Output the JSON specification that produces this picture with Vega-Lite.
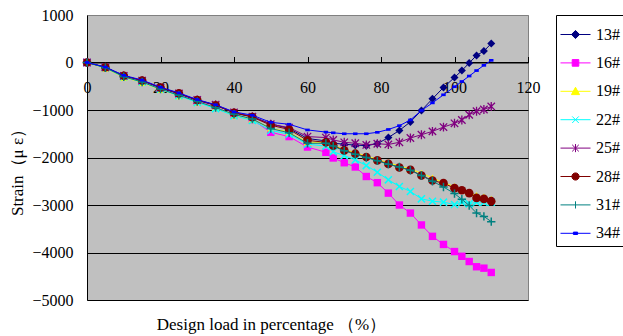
{
  "$schema": "https://vega.github.io/schema/vega-lite/v6.json",
  "autosize": "none",
  "width": 441,
  "height": 285,
  "padding": {"left": 87, "top": 15, "right": 95, "bottom": 36},
  "background": "white",
  "data": {"values": [
    {"x": 0, "13#": 0, "16#": 0, "19#": 0, "22#": 0, "25#": 0, "28#": 0, "31#": 0, "34#": 0},
    {"x": 5, "13#": -100, "16#": -110, "19#": -120, "22#": -110, "25#": -100, "28#": -100, "31#": -110, "34#": -95},
    {"x": 10, "13#": -280, "16#": -290, "19#": -310, "22#": -300, "25#": -280, "28#": -280, "31#": -300, "34#": -270},
    {"x": 15, "13#": -390, "16#": -400, "19#": -420, "22#": -410, "25#": -380, "28#": -380, "31#": -410, "34#": -370},
    {"x": 20, "13#": -540, "16#": -560, "19#": -570, "22#": -560, "25#": -530, "28#": -530, "31#": -560, "34#": -520},
    {"x": 25, "13#": -660, "16#": -690, "19#": -700, "22#": -700, "25#": -650, "28#": -650, "31#": -690, "34#": -640},
    {"x": 30, "13#": -800, "16#": -820, "19#": -830, "22#": -840, "25#": -790, "28#": -790, "31#": -820, "34#": -780},
    {"x": 35, "13#": -900, "16#": -940, "19#": -950, "22#": -970, "25#": -890, "28#": -900, "31#": -950, "34#": -890},
    {"x": 40, "13#": -1060, "16#": -1110, "19#": -1110, "22#": -1120, "25#": -1050, "28#": -1060, "31#": -1090, "34#": -1040},
    {"x": 45, "13#": -1140, "16#": -1200, "19#": -1200, "22#": -1220, "25#": -1140, "28#": -1150, "31#": -1190, "34#": -1110},
    {"x": 50, "13#": -1290, "16#": -1470, "19#": -1380, "22#": -1430, "25#": -1300, "28#": -1320, "31#": -1390, "34#": -1260},
    {"x": 55, "13#": -1390, "16#": -1560, "19#": -1470, "22#": -1510, "25#": -1370, "28#": -1410, "31#": -1480, "34#": -1300},
    {"x": 60, "13#": -1600, "16#": -1780, "19#": -1680, "22#": -1720, "25#": -1560, "28#": -1640, "31#": -1700, "34#": -1420},
    {"x": 65, "13#": -1650, "16#": -1890, "19#": -1680, "22#": -1760, "25#": -1580, "28#": -1680, "31#": -1700, "34#": -1465},
    {"x": 67, "13#": -1700, "16#": -2010, "19#": -1740, "22#": -1880, "25#": -1630, "28#": -1750, "31#": -1760, "34#": -1480},
    {"x": 70, "13#": -1720, "16#": -2110, "19#": -1830, "22#": -1960, "25#": -1680, "28#": -1850, "31#": -1860, "34#": -1500},
    {"x": 73, "13#": -1740, "16#": -2200, "19#": -1900, "22#": -2050, "25#": -1700, "28#": -1920, "31#": -1930, "34#": -1500},
    {"x": 76, "13#": -1750, "16#": -2400, "19#": -1970, "22#": -2170, "25#": -1735, "28#": -1990, "31#": -2000, "34#": -1500},
    {"x": 79, "13#": -1710, "16#": -2530, "19#": -2040, "22#": -2310, "25#": -1710, "28#": -2060, "31#": -2070, "34#": -1470},
    {"x": 82, "13#": -1580, "16#": -2750, "19#": -2110, "22#": -2470, "25#": -1725, "28#": -2135, "31#": -2140, "34#": -1410},
    {"x": 85, "13#": -1430, "16#": -3000, "19#": -2180, "22#": -2610, "25#": -1680, "28#": -2210, "31#": -2200, "34#": -1330},
    {"x": 88, "13#": -1250, "16#": -3170, "19#": -2240, "22#": -2715, "25#": -1590, "28#": -2260, "31#": -2270, "34#": -1210},
    {"x": 91, "13#": -1010, "16#": -3420, "19#": -2330, "22#": -2870, "25#": -1520, "28#": -2380, "31#": -2380, "34#": -1010},
    {"x": 94, "13#": -765, "16#": -3660, "19#": -2430, "22#": -2920, "25#": -1450, "28#": -2485, "31#": -2500, "34#": -850},
    {"x": 97, "13#": -525, "16#": -3830, "19#": -2530, "22#": -2940, "25#": -1360, "28#": -2540, "31#": -2620, "34#": -680},
    {"x": 100, "13#": -315, "16#": -3980, "19#": -2610, "22#": -2990, "25#": -1280, "28#": -2645, "31#": -2760, "34#": -510},
    {"x": 102, "13#": -170, "16#": -4080, "19#": -2680, "22#": -2940, "25#": -1210, "28#": -2690, "31#": -2880, "34#": -400},
    {"x": 104, "13#": -10, "16#": -4190, "19#": -2740, "22#": -2975, "25#": -1100, "28#": -2750, "31#": -3010, "34#": -285},
    {"x": 106, "13#": 150, "16#": -4300, "19#": -2800, "22#": -2940, "25#": -1025, "28#": -2850, "31#": -3170, "34#": -170},
    {"x": 108, "13#": 240, "16#": -4330, "19#": -2830, "22#": -2940, "25#": -990, "28#": -2870, "31#": -3240, "34#": -60},
    {"x": 110, "13#": 400, "16#": -4420, "19#": -2880, "22#": -2940, "25#": -925, "28#": -2920, "31#": -3350, "34#": 45}
  ]},
  "transform": [{"fold": ["13#", "16#", "19#", "22#", "25#", "28#", "31#", "34#"], "as": ["series", "strain"]}],
  "encoding": {
    "x": {
      "field": "x", "type": "quantitative",
      "scale": {"domain": [0, 120], "nice": false, "zero": false},
      "axis": {
        "values": [0, 20, 40, 60, 80, 100, 120], "format": "d", "grid": false,
        "offset": -237.5, "tickSize": -6, "labelPadding": 23, "labelFlush": false, "labelOverlap": false,
        "title": "Design load in percentage （%）", "titleX": 184, "titleY": 262, "titleBaseline": "middle", "titleFontSize": 17
      }
    },
    "y": {
      "field": "strain", "type": "quantitative",
      "scale": {"domain": [-5000, 1000], "nice": false, "zero": false},
      "axis": {
        "values": [-5000, -4000, -3000, -2000, -1000, 0, 1000], "format": "d", "grid": true,
        "ticks": false, "tickSize": 0, "labelPadding": 14, "labelFlush": false, "labelOverlap": false,
        "gridColor": {"condition": {"test": "datum.value == 1000", "value": "#808080"}, "value": "#000000"},
        "title": "Strain（μ ε）", "titleX": -70, "titleY": 153, "titleAngle": -90, "titleBaseline": "middle", "titleAlign": "center", "titleFontSize": 17
      }
    }
  },
  "layer": [
    {"transform": [{"filter": "datum.series === '13#'"}],
     "mark": {"type": "line", "color": "#000080", "strokeWidth": 1, "point": {"shape": "diamond", "filled": true, "size": 64, "opacity": 1, "color": "#000080"}}},
    {"transform": [{"filter": "datum.series === '16#'"}],
     "mark": {"type": "line", "color": "#FF00FF", "strokeWidth": 1, "point": {"shape": "square", "filled": true, "size": 55, "opacity": 1, "color": "#FF00FF"}}},
    {"transform": [{"filter": "datum.series === '19#'"}],
     "mark": {"type": "line", "color": "#FFFF00", "strokeWidth": 1, "point": {"shape": "triangle-up", "filled": true, "size": 64, "opacity": 1, "color": "#FFFF00"}}},
    {"transform": [{"filter": "datum.series === '22#'"}],
     "mark": {"type": "line", "color": "#00FFFF", "strokeWidth": 1, "point": {"shape": "M-1,-1L1,1M-1,1L1,-1", "filled": false, "size": 50, "strokeWidth": 1.5, "opacity": 1, "color": "#00FFFF"}}},
    {"transform": [{"filter": "datum.series === '25#'"}],
     "mark": {"type": "line", "color": "#800080", "strokeWidth": 1, "point": {"shape": "M-1,-1L1,1M-1,1L1,-1M0,-1.2L0,1.2", "filled": false, "size": 55, "strokeWidth": 1.3, "opacity": 1, "color": "#800080"}}},
    {"transform": [{"filter": "datum.series === '28#'"}],
     "mark": {"type": "line", "color": "#800000", "strokeWidth": 1, "point": {"shape": "circle", "filled": true, "size": 75, "opacity": 1, "color": "#800000"}}},
    {"transform": [{"filter": "datum.series === '31#'"}],
     "mark": {"type": "line", "color": "#008080", "strokeWidth": 1, "point": {"shape": "M-1,0H1M0,-1V1", "filled": false, "size": 70, "strokeWidth": 1.5, "opacity": 1, "color": "#008080"}}},
    {"transform": [{"filter": "datum.series === '34#'"}],
     "mark": {"type": "line", "color": "#0000FF", "strokeWidth": 1, "point": {"shape": "M-1,-0.6H1V0.6H-1Z", "filled": true, "size": 20, "opacity": 1, "color": "#0000FF"}}},
    {"transform": [{"filter": "datum.x > 500"}],
     "mark": {"type": "point", "filled": true, "opacity": 1},
     "encoding": {
       "shape": {"field": "series", "type": "nominal",
         "scale": {"domain": ["13#", "16#", "19#", "22#", "25#", "28#", "31#", "34#"],
                   "range": [
                     "M-1,0H1M0,-0.27L0.27,0L0,0.27L-0.27,0Z",
                     "M-1,0H1M-0.22,-0.22H0.22V0.22H-0.22Z",
                     "M-1,0H1M0,-0.27L0.27,0.22H-0.27Z",
                     "M-1,0H1M-0.22,-0.22L0.22,0.22M-0.22,0.22L0.22,-0.22",
                     "M-1,0H1M-0.22,-0.22L0.22,0.22M-0.22,0.22L0.22,-0.22M0,-0.27V0.27",
                     "M-1,0H1M-0.24,0A0.24,0.24 0 1,0 0.24,0A0.24,0.24 0 1,0 -0.24,0Z",
                     "M-1,0H1M0,-0.24V0.24",
                     "M-1,0H1M-0.14,-0.08H0.14V0.08H-0.14Z"
                   ]},
         "legend": {"title": null}},
       "color": {"field": "series", "type": "nominal",
         "scale": {"domain": ["13#", "16#", "19#", "22#", "25#", "28#", "31#", "34#"],
                   "range": ["#000080", "#FF00FF", "#FFFF00", "#00FFFF", "#800080", "#800000", "#008080", "#0000FF"]},
         "legend": {"title": null}},
       "stroke": {"field": "series", "type": "nominal",
         "scale": {"domain": ["13#", "16#", "19#", "22#", "25#", "28#", "31#", "34#"],
                   "range": ["#000080", "#FF00FF", "#FFFF00", "#00FFFF", "#800080", "#800000", "#008080", "#0000FF"]},
         "legend": {"title": null}}
     }}
  ],
  "config": {
    "view": {"fill": "#C0C0C0", "stroke": "#808080", "strokeWidth": 1},
    "axis": {
      "labelFont": "Liberation Serif", "labelFontSize": 16, "labelColor": "#000000",
      "titleFont": "Liberation Serif", "titleFontSize": 16, "titleFontWeight": "normal", "titleColor": "#000000",
      "domainColor": "#000000", "domainWidth": 1, "tickColor": "#000000", "tickWidth": 1,
      "gridOpacity": 1, "gridWidth": 1
    },
    "legend": {
      "orient": "right", "offset": 28, "padding": 4,
      "strokeColor": "#000000", "fillColor": "#FFFFFF",
      "symbolSize": 900, "symbolStrokeWidth": 1, "symbolOpacity": 1,
      "labelFont": "Liberation Serif", "labelFontSize": 16, "labelColor": "#000000", "labelOffset": 5,
      "rowPadding": 4.4
    }
  }
}
